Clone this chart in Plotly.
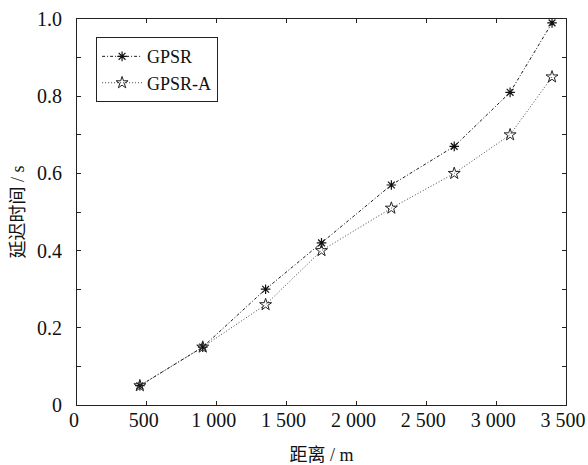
import plotly.graph_objects as go

distance = [450, 900, 1350, 1750, 2250, 2700, 3100, 3400]
gpsr = [0.05, 0.15, 0.30, 0.42, 0.57, 0.67, 0.81, 0.99]
gpsr_a = [0.05, 0.15, 0.26, 0.40, 0.51, 0.60, 0.70, 0.85]

x_tickvals = [0, 500, 1000, 1500, 2000, 2500, 3000, 3500]
x_ticktext = ["0", "500", "1 000", "1 500", "2 000", "2 500", "3 000", "3 500"]
y_tickvals = [0, 0.2, 0.4, 0.6, 0.8, 1.0]
y_ticktext = ["0", "0.2", "0.4", "0.6", "0.8", "1.0"]

FONT = "'Liberation Serif', 'Times New Roman', 'Noto Sans CJK SC', serif"

fig = go.Figure()
fig.add_trace(go.Scatter(
    x=distance, y=gpsr, name="GPSR", mode="lines+markers",
    line=dict(color="#1a1a1a", width=1, dash="3px,2px,1px,2px"),
    marker=dict(symbol="asterisk-open", size=8, color="#111", line=dict(width=1.2, color="#111")),
))
fig.add_trace(go.Scatter(
    x=distance, y=gpsr_a, name="GPSR-A", mode="lines+markers",
    line=dict(color="#444", width=1, dash="1px,2px"),
    marker=dict(symbol="star-open", size=9, color="#222", line=dict(width=1, color="#222")),
))

fig.update_layout(
    width=588, height=465,
    margin=dict(l=77, r=22, t=19, b=60),
    paper_bgcolor="white", plot_bgcolor="white",
    font=dict(family=FONT, size=20, color="#111"),
    showlegend=True,
    legend=dict(
        x=0.039, y=0.953, xanchor="left", yanchor="top",
        bordercolor="#222", borderwidth=1, bgcolor="white",
        font=dict(family=FONT, size=18, color="#111"),
        tracegroupgap=0, itemwidth=40,
    ),
)
fig.update_xaxes(
    range=[0, 3500], tickvals=x_tickvals, ticktext=x_ticktext, automargin=False,
    ticklabeloverflow="allow", ticklabelstandoff=-3, ticklabelshift=-3,
    showgrid=False, zeroline=False, showline=True, linecolor="#222", linewidth=1,
    mirror="allticks", ticks="inside", ticklen=4, tickcolor="#222",
    tickfont=dict(family=FONT, size=20),
    title=dict(text="距离 / m", font=dict(family=FONT, size=18), standoff=19),
)
fig.update_yaxes(
    range=[0, 1.0], tickvals=y_tickvals, ticktext=y_ticktext, automargin=False,
    showgrid=False, zeroline=False, showline=True, linecolor="#222", linewidth=1,
    mirror="allticks", ticks="inside", ticklen=4, tickcolor="#222",
    tickfont=dict(family=FONT, size=20), ticklabelstandoff=10,
    minor=dict(dtick=0.1, tick0=0, ticks="inside", ticklen=4, tickcolor="#222", showgrid=False),
    title=dict(text="延迟时间 / s", font=dict(family=FONT, size=18), standoff=7),
)

fig.write_html("out.html", config={"displayModeBar": False},
               post_script="document.body.style.margin='0';")
